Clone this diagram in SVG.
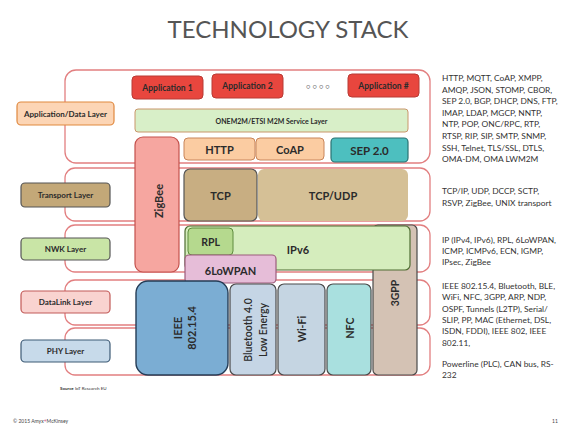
<svg xmlns="http://www.w3.org/2000/svg" width="568" height="433" viewBox="0 0 568 433">
<style>
text{font-family:Lato,"Open Sans","Liberation Sans",sans-serif;fill:#2b2b2b}
.band{fill:#ffffff;stroke:#e27f80;stroke-width:1.3}
.lbl{font-size:8px;font-weight:bold;text-anchor:middle;dominant-baseline:central}
.b{font-weight:bold;text-anchor:middle;dominant-baseline:central}
.r{font-size:8.4px;fill:#333}
.app{fill:#e8463e;stroke:#b83a34;stroke-width:1}
</style>
<rect width="568" height="433" fill="#ffffff"/>
<text x="288" y="38" font-size="24" text-anchor="middle" style="fill:#555555">TECHNOLOGY STACK</text>

<g id="bands">
<rect class="band" x="65" y="70" width="365" height="93" rx="11"/>
<rect class="band" x="65" y="168" width="365" height="53" rx="10"/>
<rect class="band" x="65" y="225" width="365" height="47" rx="10"/>
<rect class="band" x="65" y="280" width="365" height="45" rx="10"/>
<rect class="band" x="65" y="328" width="365" height="47" rx="10"/>
</g>

<g id="layer-app"><rect x="17" y="102" width="97" height="23" rx="4" fill="#fcd5b5" stroke="#e0893f" stroke-width="1.2"/><text class="lbl" x="65.5" y="113.5">Application/Data Layer</text></g>
<g id="layer-transport"><rect x="21" y="183" width="89" height="24" rx="4" fill="#c3a878" stroke="#555" stroke-width="1.2"/><text class="lbl" x="65.5" y="195">Transport Layer</text></g>
<g id="layer-nwk"><rect x="21" y="238" width="89" height="22" rx="4" fill="#c9e5a6" stroke="#555" stroke-width="1.2"/><text class="lbl" x="65.5" y="249">NWK Layer</text></g>
<g id="layer-datalink"><rect x="21" y="291" width="89" height="22" rx="4" fill="#f9d3d0" stroke="#c25a58" stroke-width="1.2"/><text class="lbl" x="65.5" y="302">DataLink Layer</text></g>
<g id="layer-phy"><rect x="21" y="340" width="89" height="22" rx="4" fill="#c7daea" stroke="#3d5a75" stroke-width="1.2"/><text class="lbl" x="65.5" y="351">PHY Layer</text></g>

<g id="app1"><rect class="app" x="132" y="76" width="71" height="23" rx="4"/><text class="b" x="167.5" y="87.5" font-size="8.5">Application 1</text></g>
<g id="app2"><rect class="app" x="212" y="74" width="71" height="24" rx="4"/><text class="b" x="247.5" y="86" font-size="8.5">Application 2</text></g>
<g id="dots"><text x="318" y="86" font-size="7" text-anchor="middle" dominant-baseline="central" style="fill:#777">○ ○ ○ ○</text></g>
<g id="appN"><rect class="app" x="348" y="74" width="71" height="23" rx="4"/><text class="b" x="383.5" y="85.5" font-size="8.5">Application #</text></g>
<g id="onem2m"><rect x="135" y="109" width="273" height="23" rx="3" fill="#d8efc8" stroke="#c9966b" stroke-width="1"/><text class="b" x="271.5" y="120.5" font-size="7">ONEM2M/ETSI M2M Service Layer</text></g>
<g id="http"><rect x="184" y="138" width="71" height="22" rx="4" fill="#fbcca2" stroke="#c8855a" stroke-width="1"/><text class="b" x="219.5" y="149" font-size="11">HTTP</text></g>
<g id="coap"><rect x="256" y="138" width="68" height="22" rx="4" fill="#fbcca2" stroke="#c8855a" stroke-width="1"/><text class="b" x="290" y="149" font-size="11">CoAP</text></g>
<g id="sep"><rect x="331" y="138" width="77" height="24" rx="4" fill="#4dbfbf" stroke="#2a7272" stroke-width="1.2"/><text class="b" x="369.5" y="150" font-size="11.5">SEP 2.0</text></g>

<g id="zigbee"><rect x="135" y="137" width="44" height="135" rx="8" fill="#f6a6a0" stroke="#c4514c" stroke-width="1.2"/><text class="b" x="158" y="201" font-size="11" transform="rotate(-90 158 201)">ZigBee</text></g>

<g id="tcp"><rect x="184" y="169" width="73" height="52" rx="6" fill="#c8ae82" stroke="#555" stroke-width="1.2"/><text class="b" x="220.5" y="195" font-size="11">TCP</text></g>
<g id="tcpudp"><rect x="258" y="169" width="150" height="52" rx="6" fill="#d5c096"/><text class="b" x="333" y="195" font-size="11">TCP/UDP</text></g>

<g id="gpp"><rect x="373" y="225" width="44" height="150" rx="5" fill="#d4c2b4" stroke="#4a4a4a" stroke-width="1.2"/><text class="b" x="395" y="293" font-size="10.5" transform="rotate(-90 395 293)">3GPP</text></g>
<g id="ipv6"><rect x="185" y="226" width="225" height="44" rx="5" fill="#d5edbd" stroke="#4f6d32" stroke-width="1.2"/><text class="b" x="298" y="249" font-size="11">IPv6</text></g>
<g id="rpl"><rect x="188" y="228" width="45" height="27" rx="4" fill="#b5d98e" stroke="#5e8c3e" stroke-width="1"/><text class="b" x="210.5" y="242" font-size="10.5">RPL</text></g>
<g id="sixlowpan"><rect x="185" y="255" width="91" height="28" rx="4" fill="#e6bdd8" stroke="#9c5c7c" stroke-width="1.2"/><text class="b" x="230.5" y="270" font-size="11">6LoWPAN</text></g>

<g id="ieee"><rect x="136" y="281" width="92" height="94" rx="12" fill="#7badd3" stroke="#253c56" stroke-width="1.4"/><text class="b" font-size="11" transform="translate(184 328) rotate(-90)"><tspan x="0" y="-7">IEEE</tspan><tspan x="0" y="7">802.15.4</tspan></text></g>
<g id="bluetooth"><rect x="230" y="284" width="46" height="91" rx="6" fill="#c5d5e5" stroke="#4a4a4a" stroke-width="1.2"/><text font-size="10.5" text-anchor="middle" dominant-baseline="central" font-weight="600" transform="translate(255 330) rotate(-90)"><tspan x="0" y="-7.5">Bluetooth 4.0</tspan><tspan x="0" y="7.5">Low Energy</tspan></text></g>
<g id="wifi"><rect x="278" y="284" width="47" height="91" rx="6" fill="#c5d5e2" stroke="#4a4a4a" stroke-width="1.2"/><text class="b" x="302" y="329" font-size="10.5" transform="rotate(-90 302 329)">Wi-Fi</text></g>
<g id="nfc"><rect x="327" y="284" width="44" height="91" rx="6" fill="#a9e0df" stroke="#4a4a4a" stroke-width="1.2"/><text class="b" x="350" y="328" font-size="10.5" transform="rotate(-90 350 328)">NFC</text></g>

<g id="protocols" class="r">
<text class="r" x="442" y="81">HTTP, MQTT, CoAP, XMPP,</text>
<text class="r" x="442" y="92.6">AMQP, JSON, STOMP, CBOR,</text>
<text class="r" x="442" y="104.2">SEP 2.0, BGP, DHCP, DNS, FTP,</text>
<text class="r" x="442" y="115.8">IMAP, LDAP, MGCP, NNTP,</text>
<text class="r" x="442" y="127.4">NTP, POP, ONC/RPC, RTP,</text>
<text class="r" x="442" y="139">RTSP, RIP, SIP, SMTP, SNMP,</text>
<text class="r" x="442" y="150.6">SSH, Telnet, TLS/SSL, DTLS,</text>
<text class="r" x="442" y="162.2">OMA-DM, OMA LWM2M</text>
<text class="r" x="442" y="194">TCP/IP, UDP, DCCP, SCTP,</text>
<text class="r" x="442" y="205.5">RSVP, ZigBee, UNIX transport</text>
<text class="r" x="442" y="243">IP (IPv4, IPv6), RPL, 6LoWPAN,</text>
<text class="r" x="442" y="254.2">ICMP, ICMPv6, ECN, IGMP,</text>
<text class="r" x="442" y="265.4">IPsec, ZigBee</text>
<text class="r" x="442" y="289">IEEE 802.15.4, Bluetooth, BLE,</text>
<text class="r" x="442" y="300.3">WiFi, NFC, 3GPP, ARP, NDP,</text>
<text class="r" x="442" y="311.6">OSPF, Tunnels (L2TP), Serial/</text>
<text class="r" x="442" y="322.9">SLIP, PP, MAC (Ethernet, DSL,</text>
<text class="r" x="442" y="334.2">ISDN, FDDI), IEEE 802, IEEE</text>
<text class="r" x="442" y="345.5">802.11,</text>
<text class="r" x="442" y="367">Powerline (PLC), CAN bus, RS-</text>
<text class="r" x="442" y="378.3">232</text>
</g>

<text x="60" y="390" font-size="4.5" style="fill:#333"><tspan font-weight="bold">Source</tspan>  IoT Research EU</text>
<text x="13" y="423" font-size="5" style="fill:#444">© 2015 Amyx<tspan style="fill:#d0508a">+</tspan>McKinsey</text>
<text x="555" y="423" font-size="5" text-anchor="middle" style="fill:#444">11</text>
<g id="connectors"/>
</svg>
